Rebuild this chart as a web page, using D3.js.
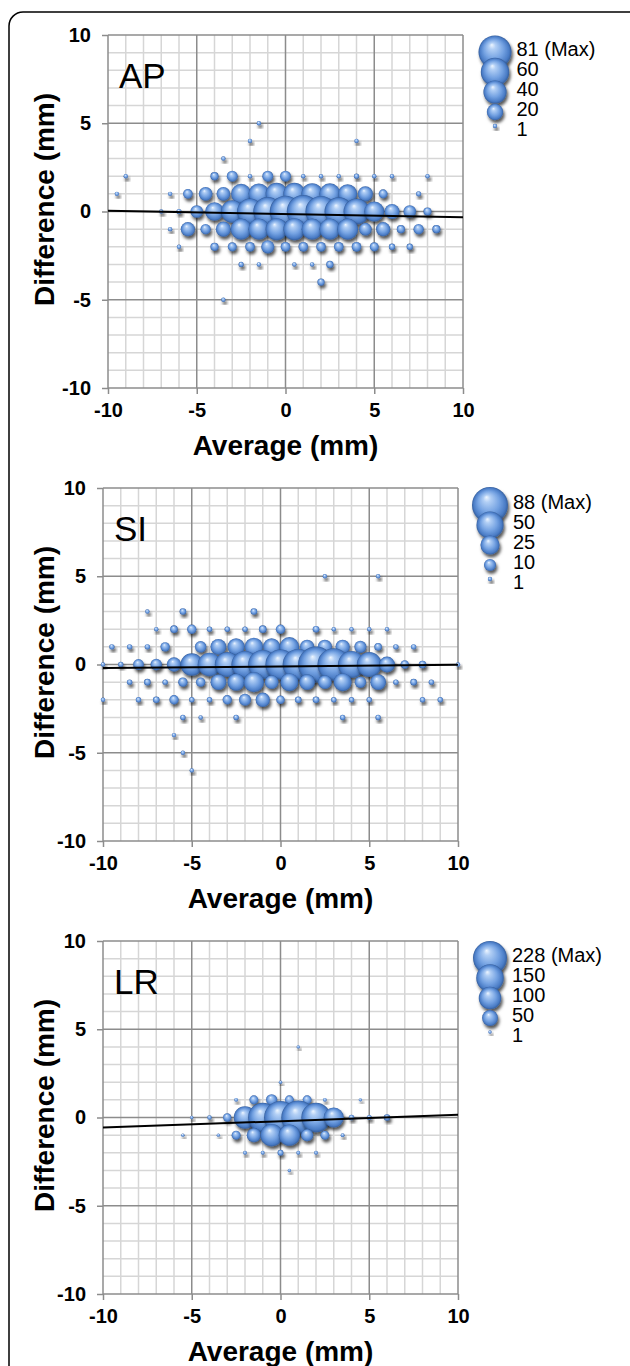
<!DOCTYPE html>
<html>
<head>
<meta charset="utf-8">
<script src="https://cdn.jsdelivr.net/npm/d3@7"></script>
<style>
  body { margin: 0; background: #fff; }
  svg { display: block; font-family: "Liberation Sans", Arial, sans-serif; }
</style>
</head>
<body>
<svg id="chart" width="630" height="1366"></svg>
<script>
// axis ticks shared by all three panels
var tickValues = [-10, -5, 0, 5, 10];

// AP: [average, difference, count]
var apPoints = [
  [-1.5,5,1],
  [-2,4,1],[4,4,1],
  [-3.5,3,1],
  [-9,2,1],[-4,2,5],[-3,2,9],[-2,2,1],[-1,2,9],[0,2,9],[1,2,1],[2,2,1],[3,2,1],[4,2,2],[5,2,1],[6,2,1],[8,2,1],
  [-9.5,1,1],[-6.5,1,1],[-5.5,1,7],[-4.5,1,14],[-3.5,1,14],[-2.5,1,30],[-1.5,1,32],[-0.5,1,36],[0.5,1,36],[1.5,1,34],[2.5,1,33],[3.5,1,27],[4.5,1,17],[5.5,1,6],[7.5,1,2],
  [-7,0,1],[-6,0,2],[-5,0,12],[-4,0,26],[-3,0,38],[-2,0,50],[-1,0,62],[0,0,74],[1,0,81],[2,0,72],[3,0,60],[4,0,50],[5,0,30],[6,0,17],[7,0,12],[8,0,5],
  [-6.5,-1,1],[-5.5,-1,15],[-4.5,-1,8],[-3.5,-1,17],[-2.5,-1,33],[-1.5,-1,33],[-0.5,-1,36],[0.5,-1,36],[1.5,-1,33],[2.5,-1,33],[3.5,-1,33],[4.5,-1,12],[5.5,-1,15],[6.5,-1,5],[7.5,-1,8],[8.5,-1,5],
  [-6,-2,1],[-4,-2,5],[-3,-2,6],[-2,-2,7],[-1,-2,13],[0,-2,7],[1,-2,7],[2,-2,7],[3,-2,7],[4,-2,7],[5,-2,6],[6,-2,3],[7,-2,3],
  [-2.5,-3,2],[-1.5,-3,1],[0.5,-3,1],[1.5,-3,1],[2.5,-3,4],
  [2,-4,4],
  [-3.5,-5,1]
];
var apLegend = [81, 60, 40, 20, 1];
var apTrend = [[-10, 0.04], [10, -0.33]];

// SI
var siPoints = [
  [2.5,5,1],[5.5,5,1],
  [-7.5,3,1],[-5.5,3,3],[-1.5,3,3],
  [-7,2,1],[-6,2,4],[-5,2,6],[-4,2,2],[-3,2,2],[-2,2,2],[-1,2,4],[0,2,6],[2,2,3],[3,2,1],[4,2,1],[5,2,1],[6,2,1],
  [-9.5,1,2],[-8.5,1,2],[-7.5,1,2],[-6.5,1,6],[-4.5,1,9],[-3.5,1,17],[-2.5,1,20],[-1.5,1,23],[-0.5,1,20],[0.5,1,26],[1.5,1,14],[2.5,1,14],[3.5,1,14],[4.5,1,10],[5.5,1,4],[6.5,1,2],[7.5,1,2],
  [-10,0,1],[-9,0,2],[-8,0,8],[-7,0,9],[-6,0,14],[-5,0,34],[-4,0,38],[-3,0,42],[-2,0,50],[-1,0,58],[0,0,62],[1,0,66],[2,0,88],[3,0,72],[4,0,50],[5,0,42],[6,0,17],[7,0,5],[8,0,4],[10,0,1],
  [-8.5,-1,2],[-7.5,-1,3],[-6.5,-1,2],[-5.5,-1,6],[-4.5,-1,6],[-3.5,-1,17],[-2.5,-1,20],[-1.5,-1,28],[-0.5,-1,13],[0.5,-1,22],[1.5,-1,17],[2.5,-1,13],[3.5,-1,22],[4.5,-1,9],[5.5,-1,17],[6.5,-1,2],[7.5,-1,3],[8.5,-1,2],
  [-10,-2,1],[-8,-2,2],[-7,-2,3],[-6,-2,6],[-5,-2,2],[-4,-2,2],[-3,-2,6],[-2,-2,10],[-1,-2,14],[0,-2,5],[1,-2,3],[2,-2,3],[3,-2,2],[4,-2,2],[5,-2,2],[8,-2,2],[9,-2,2],
  [-5.5,-3,2],[-4.5,-3,1],[-2.5,-3,2],[3.5,-3,2],[5.5,-3,2],
  [-6,-4,1],
  [-5.5,-5,1],
  [-5,-6,1]
];
var siLegend = [88, 50, 25, 10, 1];
var siTrend = [[-10, -0.2], [10, -0.02]];

// LR
var lrPoints = [
  [1,4,1],
  [0,2,1],
  [-2.5,1,3],[-1.5,1,16],[-0.5,1,25],[0.5,1,16],[1.5,1,16],[2.5,1,3],[4.5,1,2],
  [-5,0,1],[-4,0,4],[-3,0,14],[-2,0,100],[-1,0,170],[0,0,215],[1,0,228],[2,0,170],[3,0,80],[4,0,6],[5,0,5],[6,0,8],
  [-5.5,-1,1],[-3.5,-1,1],[-2.5,-1,16],[-1.5,-1,40],[-0.5,-1,100],[0.5,-1,90],[1.5,-1,30],[2.5,-1,16],[3.5,-1,3],
  [-2,-2,3],[-1,-2,3],[0,-2,7],[1,-2,3],[2,-2,3],
  [0.5,-3,1]
];
var lrLegend = [228, 150, 100, 50, 1];
var lrTrend = [[-10, -0.57], [10, 0.15]];

var panels = [
  {title: "AP", points: apPoints, legend: apLegend, trend: apTrend, left: 108, top: 35, rMax: 16.5, rMin: 2.2},
  {title: "SI", points: siPoints, legend: siLegend, trend: siTrend, left: 103, top: 488, rMax: 18, rMin: 2.2},
  {title: "LR", points: lrPoints, legend: lrLegend, trend: lrTrend, left: 103, top: 941, rMax: 17, rMin: 1.7}
];
var plotW = 355, plotH = 353;

var svg = d3.select("#chart");

// outer frame
svg.append("rect")
  .attr("x", 9).attr("y", 12)
  .attr("width", 650).attr("height", 1420)
  .attr("rx", 14)
  .attr("fill", "none")
  .attr("stroke", "#000")
  .attr("stroke-width", 1.5);

// shiny ball gradient and its shadow
var defs = svg.append("defs");
var grad = defs.append("radialGradient")
  .attr("id", "ball")
  .attr("cx", "50%").attr("cy", "50%").attr("r", "50%")
  .attr("fx", "40%").attr("fy", "28%");
[[0, "#eef6ff"], [0.2, "#b2cff5"], [0.6, "#74a2e2"], [0.88, "#4a7cc6"], [1, "#355e9c"]].forEach(function(s) {
  grad.append("stop").attr("offset", s[0]).attr("stop-color", s[1]);
});
defs.append("filter")
  .attr("id", "shadow")
  .attr("x", "-60%").attr("y", "-60%").attr("width", "220%").attr("height", "220%")
  .append("feDropShadow")
  .attr("dx", 1.5).attr("dy", 3)
  .attr("stdDeviation", 1.8)
  .attr("flood-color", "#000")
  .attr("flood-opacity", 0.65);

panels.forEach(function(p) {
  var x = d3.scaleLinear().domain([-10, 10]).range([p.left, p.left + plotW]);
  var y = d3.scaleLinear().domain([-10, 10]).range([p.top + plotH, p.top]);
  var r = d3.scaleSqrt().domain([0, p.legend[0]]).range([0, p.rMax]);
  var radius = function(n) { return Math.max(p.rMin, r(n)); };
  var g = svg.append("g");

  // grid, minor first then every 5 mm
  var steps = d3.range(-10, 11);
  var minor = steps.filter(function(v) { return v % 5 !== 0; });
  var major = steps.filter(function(v) { return v % 5 === 0; });
  [[minor, "#d6d6d6"], [major, "#8c8c8c"]].forEach(function(set) {
    g.selectAll(null).data(set[0]).enter().append("line")
      .attr("x1", function(d) { return x(d); }).attr("x2", function(d) { return x(d); })
      .attr("y1", y(-10)).attr("y2", y(10))
      .attr("stroke", set[1]).attr("stroke-width", 1.5);
    g.selectAll(null).data(set[0]).enter().append("line")
      .attr("y1", function(d) { return y(d); }).attr("y2", function(d) { return y(d); })
      .attr("x1", x(-10)).attr("x2", x(10))
      .attr("stroke", set[1]).attr("stroke-width", 1.5);
  });

  // axes (plain hyphen minus like the original)
  var fmt = function(d) { return String(d); };
  var yAxis = g.append("g")
    .attr("transform", "translate(" + x(-10) + ",0)")
    .call(d3.axisLeft(y).tickValues(tickValues).tickSize(6).tickPadding(11).tickFormat(fmt));
  var xAxis = g.append("g")
    .attr("transform", "translate(0," + y(-10) + ")")
    .call(d3.axisBottom(x).tickValues(tickValues).tickSize(6).tickPadding(9).tickFormat(fmt));
  [yAxis, xAxis].forEach(function(a) {
    a.select(".domain").remove();
    a.selectAll("line").attr("stroke", "#8c8c8c").attr("stroke-width", 1.5);
    a.selectAll("text")
      .attr("fill", "#000")
      .style("font-size", "20px")
      .style("font-weight", "bold")
      .style("font-family", "'Liberation Sans', Arial, sans-serif");
  });

  // bubbles, upper rows drawn first
  var pts = p.points.slice().sort(function(a, b) { return b[1] - a[1]; });
  g.selectAll(".bubble").data(pts).enter().append("circle")
    .attr("class", "bubble")
    .attr("cx", function(d) { return x(d[0]); })
    .attr("cy", function(d) { return y(d[1]); })
    .attr("r", function(d) { return radius(d[2]); })
    .attr("fill", "url(#ball)")
    .attr("filter", "url(#shadow)");

  // regression line
  g.append("path")
    .datum(p.trend)
    .attr("d", d3.line().x(function(d) { return x(d[0]); }).y(function(d) { return y(d[1]); }))
    .attr("stroke", "#000").attr("stroke-width", 2).attr("fill", "none");

  // panel title
  g.append("text")
    .attr("x", p.left + 11).attr("y", p.top + 53)
    .style("font-size", "35px")
    .text(p.title);

  // axis titles
  g.append("text")
    .attr("transform", "translate(54," + (p.top + plotH / 2 - 12) + ") rotate(-90)")
    .attr("text-anchor", "middle")
    .style("font-size", "28px").style("font-weight", "bold")
    .text("Difference (mm)");
  g.append("text")
    .attr("x", p.left + plotW / 2).attr("y", p.top + plotH + 67)
    .attr("text-anchor", "middle")
    .style("font-size", "28px").style("font-weight", "bold")
    .text("Average (mm)");

  // size legend
  var cx = p.left + plotW + 32;
  var lg = g.append("g");
  var rows = p.legend.map(function(v, i) {
    var base = p.top + 21 + i * 20;
    return {v: v, base: base, cy: i === p.legend.length - 1 ? base - 10 : base - 4};
  });
  lg.selectAll("circle").data(rows).enter().append("circle")
    .attr("cx", cx)
    .attr("cy", function(d) { return d.cy; })
    .attr("r", function(d) { return radius(d.v); })
    .attr("fill", "url(#ball)")
    .attr("filter", "url(#shadow)");
  lg.selectAll("text").data(rows).enter().append("text")
    .attr("x", cx + p.rMax + 5)
    .attr("y", function(d) { return d.base; })
    .style("font-size", "20px")
    .text(function(d, i) { return i === 0 ? d.v + " (Max)" : d.v; });
});
</script>
</body>
</html>
